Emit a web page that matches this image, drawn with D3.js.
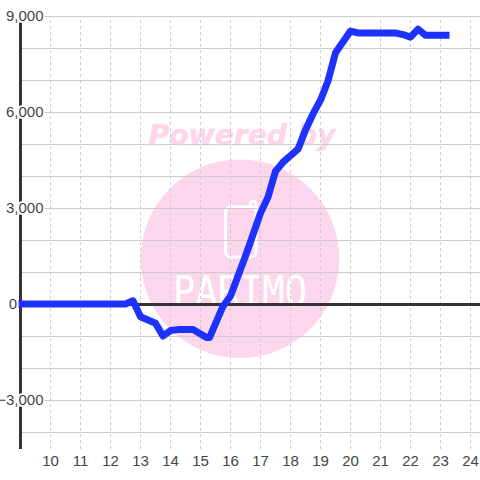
<!DOCTYPE html>
<html><head><meta charset="utf-8">
<script src="https://cdn.jsdelivr.net/npm/d3@7"></script>
<style>html,body{margin:0;padding:0;background:#fff}svg{display:block}</style></head>
<body><svg id="c" width="480" height="480"></svg>
<script>
const hours = [8.9,12.5,12.75,13,13.5,13.75,14,14.25,14.75,15.2,15.3,15.75,16,16.5,17,17.25,17.5,17.75,18.25,18.5,18.75,19,19.25,19.5,20,20.25,21.5,21.75,22,22.25,22.5,23.3];
const values = [0,0,100,-400,-600,-1000,-830,-800,-800,-1050,-1050,-70,250,1500,2840,3340,4150,4430,4840,5440,5940,6370,6970,7850,8530,8470,8470,8420,8340,8590,8400,8400];
const xTicks = [10,11,12,13,14,15,16,17,18,19,20,21,22,23,24];
const yGrid = [9000,8000,7000,6000,5000,4000,3000,2000,1000,0,-1000,-2000,-3000,-4000];
const yLabels = [9000,6000,3000,0,-3000];
const watermarkTop = "Powered by";
const watermarkLogo = "PARIMO";

const svg = d3.select("#c");
const x = d3.scaleLinear().domain([10,24]).range([50,470]);
const y = d3.scaleLinear().domain([9000,-4000]).range([16,432]);
const left = 20.5, right = 480, bottom = 449;
const pink = "#fcd6ec";

// watermark
const wm = svg.append("g");
wm.append("circle").attr("cx",240).attr("cy",258.7).attr("r",99.3).attr("fill",pink);
wm.append("text").attr("x",242).attr("y",145).attr("text-anchor","middle")
  .attr("font-family","DejaVu Sans").attr("font-weight","bold").attr("font-style","italic")
  .attr("font-size",29).attr("fill",pink).attr("stroke",pink).attr("stroke-width",.5)
  .attr("textLength",187).attr("lengthAdjust","spacingAndGlyphs").text(watermarkTop);
wm.append("rect").attr("x",225.5).attr("y",207).attr("width",30.5).attr("height",50).attr("rx",5)
  .attr("fill","none").attr("stroke","#fff").attr("stroke-width",3);
wm.append("path").attr("d","M250.5 206V203a3 3 0 0 1 5.5 0V212")
  .attr("fill","none").attr("stroke","#fff").attr("stroke-width",3);
wm.append("text").attr("x",173).attr("y",306)
  .attr("font-family","DejaVu Sans Mono").attr("font-size",42).attr("fill","#fff")
  .attr("textLength",134).attr("lengthAdjust","spacingAndGlyphs").text(watermarkLogo);

// vertical dashed grid
svg.append("g").attr("transform",`translate(0,${bottom})`).attr("opacity",.999)
  .call(d3.axisBottom(x).tickValues(xTicks).tickSize(-(bottom-16)).tickPadding(6).tickFormat(d3.format("d")))
  .call(g=>g.select(".domain").remove())
  .call(g=>g.selectAll("line").attr("stroke","#ccc").attr("stroke-dasharray","3,3"))
  .call(g=>g.selectAll("text").attr("font-family","Liberation Sans").attr("font-size",15).attr("fill","#444"));

// horizontal grid
svg.append("g").attr("transform",`translate(${right},0)`)
  .call(d3.axisLeft(y).tickValues(yGrid).tickSize(right-left).tickFormat(""))
  .call(g=>g.select(".domain").remove())
  .call(g=>g.selectAll("line").attr("stroke","#ccc"));

// zero line and vertical axis
svg.append("line").attr("x1",left).attr("x2",right).attr("y1",y(0)+.5).attr("y2",y(0)+.5)
  .attr("stroke","#333").attr("stroke-width",3);
svg.append("line").attr("x1",left).attr("x2",left).attr("y1",16).attr("y2",bottom)
  .attr("stroke","#333").attr("stroke-width",3);

// series
const line = d3.line().x((d,i)=>x(hours[i])+.5).y(d=>y(d));
svg.append("path").datum(values).attr("d",line).attr("fill","none")
  .attr("stroke","#1e32ff").attr("stroke-width",7).attr("stroke-linejoin","round");

// y labels
svg.append("g").attr("transform","translate(43.5,0)").attr("opacity",.999)
  .call(d3.axisLeft(y).tickValues(yLabels).tickSize(0).tickPadding(0).tickFormat(d3.format(",")))
  .call(g=>g.select(".domain").remove())
  .call(g=>g.selectAll("text").attr("font-family","Liberation Sans").attr("font-size",15).attr("fill","#444")
    .attr("stroke","#fff").attr("stroke-width",4).attr("paint-order","stroke")
    .attr("x",d=>d===0?-26.5:0));
</script></body></html>
